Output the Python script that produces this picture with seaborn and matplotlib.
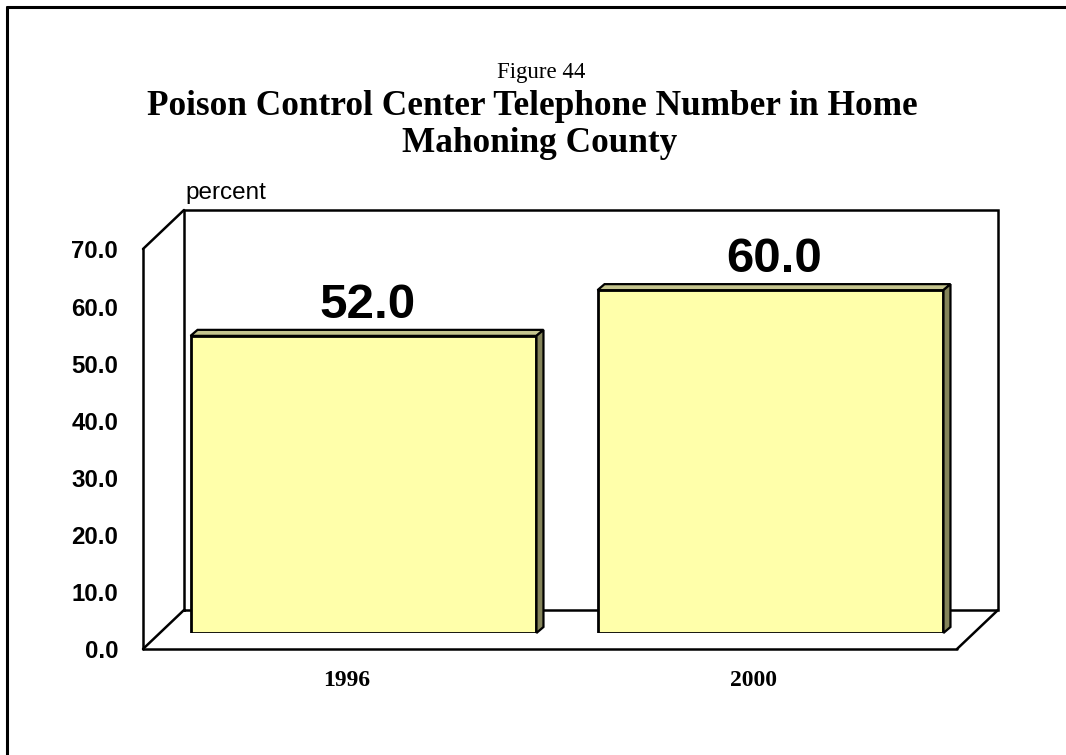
import matplotlib
matplotlib.use("Agg")
import matplotlib.pyplot as plt
from matplotlib.transforms import offset_copy, IdentityTransform
from matplotlib.patches import Polygon
from matplotlib.lines import Line2D
import seaborn as sns
import pandas as pd

# Data
years = ["1996", "2000"]
percent = [52.0, 60.0]
y_ticks = [0.0, 10.0, 20.0, 30.0, 40.0, 50.0, 60.0, 70.0]

fig_title_small = "Figure 44"
title_lines = ["Poison Control Center Telephone Number in Home", "Mahoning County"]

W, H = 1066, 755
DPI = 100
SERIF = "Liberation Serif"
SANS = "Liberation Sans"

BAR_FACE = "#FFFFAA"
BAR_TOP = "#C4C48E"
BAR_SIDE = "#84845A"

sns.set_style("white")
plt.rcParams["text.color"] = "black"
fig = plt.figure(figsize=(W / DPI, H / DPI), dpi=DPI)


def fx(px):
    return px / W


def fy(py):
    return 1 - py / H


# Axes spanning the plane the bars stand in
ax_l, ax_r, ax_top, ax_bot = 160, 974, 233, 633
ax = fig.add_axes([fx(ax_l), fy(ax_bot), fx(ax_r - ax_l), (ax_bot - ax_top) / H])

df = pd.DataFrame({"year": years, "percent": percent})
sns.barplot(data=df, x="year", y="percent", ax=ax, width=0.85, color=BAR_FACE,
            saturation=1, edgecolor="black", linewidth=2.0, zorder=3)
ax.set_xlim(-0.5, 1.5)
ax.set_ylim(0, 70)
ax.axis("off")

# Transforms for the front and back planes of the 3-D box
front = offset_copy(ax.transData, fig=fig, x=-17, y=-16, units="dots")
back = offset_copy(ax.transData, fig=fig, x=24, y=23, units="dots")

lw = 1.8
x0, x1 = -0.5, 1.5
ymax = 70

# Back wall
ax.plot([x0, x0, x1, x1, x0], [0, ymax, ymax, 0, 0], color="black", lw=lw,
        transform=back, clip_on=False, zorder=1, solid_joinstyle="miter")
# Front edges: left wall vertical and floor front edge
ax.plot([x0, x0], [ymax, 0], color="black", lw=lw, transform=front, clip_on=False, zorder=1)
ax.plot([x0, x1], [0, 0], color="black", lw=lw, transform=front, clip_on=False, zorder=1)

# Diagonal edges joining front and back planes (display coordinates)
fig.canvas.draw()
for (xd, yd) in [(x0, ymax), (x0, 0), (x1, 0)]:
    p0 = front.transform((xd, yd))
    p1 = back.transform((xd, yd))
    fig.add_artist(Line2D([p0[0], p1[0]], [p0[1], p1[1]], color="black", lw=lw,
                          transform=IdentityTransform(), zorder=1))

# Depth faces on each bar
ddx, ddy = 7, 6
for bar in list(ax.patches):
    bx, bw, bh = bar.get_x(), bar.get_width(), bar.get_height()
    tl = ax.transData.transform((bx, bh))
    tr = ax.transData.transform((bx + bw, bh))
    br = ax.transData.transform((bx + bw, 0))
    top = [tl, tr, tr + (ddx, ddy), tl + (ddx, ddy)]
    side = [tr, br, br + (ddx, ddy), tr + (ddx, ddy)]
    for verts, col in [(top, BAR_TOP), (side, BAR_SIDE)]:
        fig.add_artist(Polygon(verts, closed=True, facecolor=col, edgecolor="black",
                               lw=1.6, transform=IdentityTransform(), zorder=4,
                               joinstyle="miter"))

# Value labels above bars
for i, v in enumerate(percent):
    t = offset_copy(ax.transData, fig=fig, x=4, y=18, units="dots")
    ax.text(i, v, f"{v:.1f}", transform=t, ha="center", va="baseline",
            fontsize=35.5, fontweight="bold", family=SANS, zorder=5, clip_on=False)

# Y tick labels along the front plane
ytxt = offset_copy(front, fig=fig, x=-25, y=-3, units="dots")
for v in y_ticks:
    ax.text(x0, v, f"{v:.1f}", transform=ytxt, ha="right", va="center",
            fontsize=17.3, fontweight="bold", family=SANS, clip_on=False)

# Category labels
xtxt = offset_copy(front, fig=fig, x=0, y=-31, units="dots")
for i, yr in enumerate(years):
    ax.text(i, 0, yr, transform=xtxt, ha="center", va="center",
            fontsize=17, fontweight="bold", family=SERIF, clip_on=False)

# Axis unit label
ptxt = offset_copy(back, fig=fig, x=1, y=11, units="dots")
ax.text(x0, ymax, "percent", transform=ptxt, ha="left", va="baseline",
        fontsize=17.5, family=SANS, clip_on=False)

# Titles
fig.text(fx(541), fy(78), fig_title_small, ha="center", va="baseline",
         fontsize=16.5, family=SERIF)
for line, cx, base in zip(title_lines, [532, 540], [115, 152]):
    fig.text(fx(cx), fy(base), line, ha="center", va="baseline",
             fontsize=25.4, fontweight="bold", family=SERIF)

# Outer frame
fig.add_artist(Line2D([fx(7), fx(7)], [fy(7), 0], color="black", lw=2.2,
                      transform=fig.transFigure))
fig.add_artist(Line2D([fx(7), 1], [fy(7), fy(7)], color="black", lw=2.2,
                      transform=fig.transFigure))

fig.savefig("out.png", dpi=DPI)
